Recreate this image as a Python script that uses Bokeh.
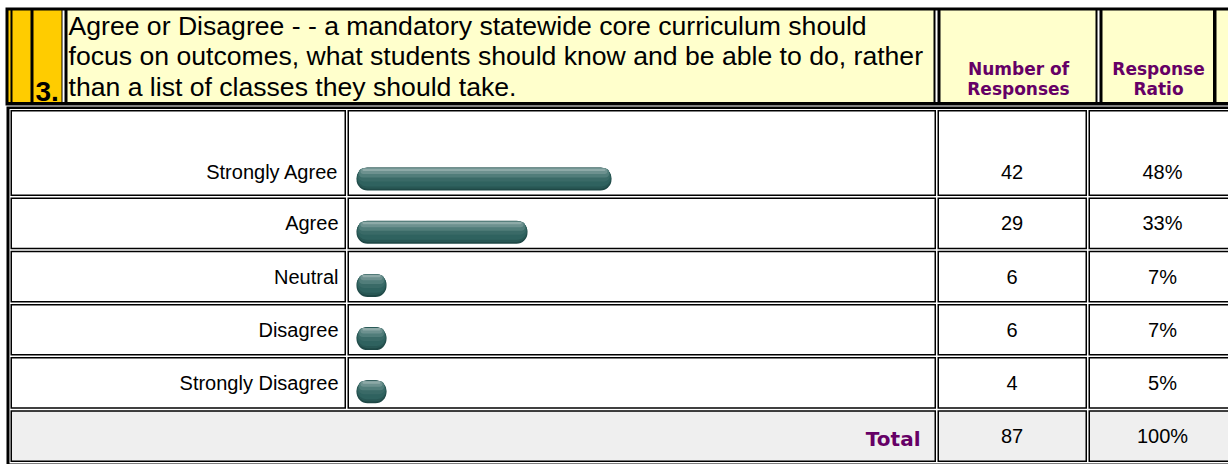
from bokeh.plotting import figure
from bokeh.models import Range1d
from bokeh.embed import file_html
from bokeh.resources import INLINE
from bokeh.core.properties import value

# ---------------- data ----------------
QUESTION_NUMBER = "3."
QUESTION_LINES = [
    "Agree or Disagree - - a mandatory statewide core curriculum should",
    "focus on outcomes, what students should know and be able to do, rather",
    "than a list of classes they should take.",
]
HEADER_COUNT = ["Number of", "Responses"]
HEADER_RATIO = ["Response", "Ratio"]
categories = ["Strongly Agree", "Agree", "Neutral", "Disagree", "Strongly Disagree"]
counts = [42, 29, 6, 6, 4]
ratios = [48, 33, 7, 7, 5]
total_label = "Total"
total_count = 87
total_ratio = 100

# ---------------- layout ----------------
W, H = 1228, 464
ARIAL = value("Liberation Sans")
BOLDFONT = value("DejaVu Sans")
PURPLE = "#660066"
YELLOW = "#FFCC00"
LIGHTY = "#FFFFCC"
GRAY = "#EFEFEF"

p = figure(width=W, height=H, x_range=Range1d(0, W), y_range=Range1d(H, 0),
           output_backend="svg", toolbar_location=None, min_border=0,
           x_axis_type=None, y_axis_type=None,
           background_fill_color="white", border_fill_color="white",
           outline_line_color=None)
p.grid.visible = False

rects = {"left": [], "right": [], "top": [], "bottom": [], "color": []}


def box(x0, x1, y0, y1, c):
    rects["left"].append(x0)
    rects["right"].append(x1)
    rects["top"].append(y0)
    rects["bottom"].append(y1)
    rects["color"].append(c)


# header band
HT, HB = 10, 101.5
box(5, 1240, 7, 105, "black")
box(8, 10, HT, HB, YELLOW)
box(12, 30, HT, HB, YELLOW)
box(33, 61, HT, HB, YELLOW)
box(62, 64, HT, HB, "white")
box(67, 933, HT, HB, LIGHTY)
box(935, 937, HT, HB, "white")
box(940, 1095, HT, HB, LIGHTY)
box(1097, 1099, HT, HB, "white")
box(1102, 1212.5, HT, HB, LIGHTY)
box(1216, 1240, HT, HB, LIGHTY)

# data table frame
box(6, 1240, 106, 470, "black")
box(9, 1240, 108.5, 463, "white")

COLS = [(10, 345.5), (347, 935.5), (937, 1086.5), (1088, 1240)]
BW = 1.5
row_bounds = [(109.5, 195.5)]
for k in range(len(categories)):
    t = 197 + k * 53.2
    row_bounds.append((t, t + 51.7))
data_rows = row_bounds[:len(categories)]
total_row = row_bounds[len(categories)]


def cell(x0, x1, y0, y1, fill):
    box(x0, x1, y0, y1, "black")
    box(x0 + BW, x1 - BW, y0 + BW, y1 - BW, fill)


for (y0, y1) in data_rows:
    for (x0, x1) in COLS:
        cell(x0, x1, y0, y1, "white")
ty0, ty1 = total_row
cell(COLS[0][0], COLS[1][1], ty0, ty1, GRAY)
cell(COLS[2][0], COLS[2][1], ty0, ty1, GRAY)
cell(COLS[3][0], COLS[3][1], ty0, ty1, GRAY)

p.quad(left="left", right="right", top="top", bottom="bottom", source=rects,
       fill_color="color", line_color=None)

# ---------------- header texts ----------------
p.text(x=[68] * len(QUESTION_LINES), y=[25, 55.5, 86], text=QUESTION_LINES,
       text_font=ARIAL, text_font_size="26.6px", text_color="black",
       text_baseline="middle", text_align="left")
p.text(x=[35], y=[90.5], text=[QUESTION_NUMBER], text_font=ARIAL,
       text_font_size="28px", text_font_style="bold", text_color="black",
       text_baseline="middle")
p.text(x=[1018, 1018], y=[68.5, 88], text=HEADER_COUNT, text_font=BOLDFONT,
       text_font_size="17px", text_font_style="bold", text_color=PURPLE,
       text_align="center", text_baseline="middle")
p.text(x=[1158, 1158], y=[68.5, 88], text=HEADER_RATIO, text_font=BOLDFONT,
       text_font_size="17px", text_font_style="bold", text_color=PURPLE,
       text_align="center", text_baseline="middle")

# ---------------- row texts ----------------
text_y = []
for i, (y0, y1) in enumerate(data_rows):
    text_y.append(y1 - 24 if i == 0 else (y0 + y1) / 2)
p.text(x=[338] * len(categories), y=text_y, text=categories, text_font=ARIAL,
       text_font_size="20px", text_color="black", text_align="right",
       text_baseline="middle")
p.text(x=[1011.5] * len(counts), y=text_y, text=[str(c) for c in counts],
       text_font=ARIAL, text_font_size="20px", text_color="black",
       text_align="center", text_baseline="middle")
p.text(x=[1162] * len(ratios), y=text_y, text=[f"{r}%" for r in ratios],
       text_font=ARIAL, text_font_size="20px", text_color="black",
       text_align="center", text_baseline="middle")

tyc = (ty0 + ty1) / 2
p.text(x=[920], y=[tyc + 3], text=[total_label], text_font=BOLDFONT,
       text_font_size="20px", text_font_style="bold", text_color=PURPLE,
       text_align="right", text_baseline="middle")
p.text(x=[1011.5], y=[tyc], text=[str(total_count)], text_font=ARIAL,
       text_font_size="20px", text_color="black", text_align="center",
       text_baseline="middle")
p.text(x=[1162], y=[tyc], text=[f"{total_ratio}%"], text_font=ARIAL,
       text_font_size="20px", text_color="black", text_align="center",
       text_baseline="middle")

# ---------------- bars (percent scale) ----------------
SCALE = 5.6      # pixels per percent
ORIGIN = 342.2   # pixel position of 0 %
p.extra_x_ranges = {"pct": Range1d(-ORIGIN / SCALE, (W - ORIGIN) / SCALE)}
left0 = (356 - ORIGIN) / SCALE
min_right = (386 - ORIGIN) / SCALE
rights = [max(r, min_right) for r in ratios]
bar_y = [y1 - 17 for (y0, y1) in data_rows]

layers = [
    (0.0, 23.0, 0.0, "#1f4846", 11),
    (-0.8, 21.0, 0.4, "#285754", 10),
    (-1.8, 18.5, 0.8, "#2f625f", 9),
    (-4.0, 13.0, 1.5, "#3a6a67", 6),
    (-6.0, 9.0, 2.5, "#517d7a", 4),
    (-7.8, 5.5, 4.0, "#6d918f", 3),
    (-9.3, 2.5, 6.0, "#8eaaa8", 1),
]
for dy, h, inset, col, rad in layers:
    p.hbar(y=[yc + dy for yc in bar_y],
           left=[left0 + inset / SCALE] * len(rights),
           right=[r - inset / SCALE for r in rights],
           height=h, fill_color=col, line_color=None,
           border_radius=rad, x_range_name="pct")

open("out.html", "w").write(file_html(p, INLINE))
